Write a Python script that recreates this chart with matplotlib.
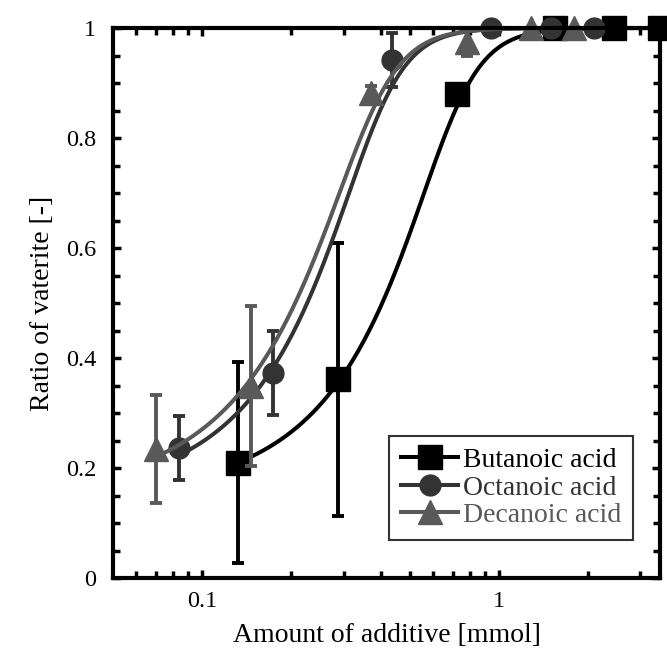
import numpy as np
import matplotlib
matplotlib.use("Agg")
import matplotlib.pyplot as plt
from matplotlib.ticker import FixedLocator, NullFormatter, MultipleLocator

# ---- data ----
names = ["Butanoic acid", "Octanoic acid", "Decanoic acid"]
colors = ["#000000", "#333333", "#595959"]
markers = ["s", "o", "^"]
msizes = [17, 15, 17]

but_x = [0.132, 0.286, 0.72, 1.55, 2.44, 3.5]
but_y = [0.210, 0.361, 0.880, 1.0, 1.0, 1.0]
but_e = [0.183, 0.248, 0.015, 0.0, 0.0, 0.0]

oct_x = [0.0835, 0.174, 0.436, 0.94, 1.50, 2.09]
oct_y = [0.237, 0.373, 0.942, 1.0, 1.0, 1.0]
oct_e = [0.058, 0.077, 0.049, 0.0, 0.0, 0.0]

dec_x = [0.0698, 0.146, 0.370, 0.78, 1.28, 1.79]
dec_y = [0.235, 0.349, 0.882, 0.975, 1.0, 1.0]
dec_e = [0.098, 0.145, 0.012, 0.025, 0.0, 0.0]

# fitted dose-response curves: y = a + (1-a) * (1 + (x0/x)^k)^(-m)
fit_a = [0.15, 0.15, 0.15]
fit_x0 = [0.70, 0.391, 0.368]
fit_k = [5.3, 5.3, 5.0]
fit_m = [0.3, 0.3, 0.3]

xs_all = [but_x, oct_x, dec_x]
ys_all = [but_y, oct_y, dec_y]
es_all = [but_e, oct_e, dec_e]

plt.rcParams['font.family'] = ['Liberation Serif', 'DejaVu Serif']

fig = plt.figure(figsize=(6.67, 6.67), dpi=100)
ax = fig.add_axes([0.169, 0.1334, 0.821, 0.8246])

handles = []
for i in range(3):
    x = np.array(xs_all[i]); y = np.array(ys_all[i]); e = np.array(es_all[i])
    xx = np.logspace(np.log10(x[0]), np.log10(x[-1]), 400)
    yy = fit_a[i] + (1 - fit_a[i]) * (1 + (fit_x0[i] / xx) ** fit_k[i]) ** (-fit_m[i])
    ax.plot(xx, yy, color=colors[i], lw=2.9, zorder=2 + i)
    ax.errorbar(x, y, yerr=e, fmt='none', ecolor=colors[i], elinewidth=2.8,
                capsize=4, capthick=2.8, zorder=2.5 + i)
    ax.plot(x, y, linestyle='none', marker=markers[i], ms=msizes[i],
            color=colors[i], mec=colors[i], zorder=3 + i, clip_on=False)
    h, = ax.plot([], [], color=colors[i], lw=2.9, marker=markers[i],
                 ms=msizes[i], mec=colors[i])
    handles.append(h)

ax.set_xscale('log')
ax.set_xlim(0.05, 3.5)
ax.set_ylim(0, 1)

ax.xaxis.set_major_locator(FixedLocator([0.1, 1]))
ax.set_xticklabels(["0.1", "1"])
minor_x = [0.06, 0.07, 0.08, 0.09, 0.2, 0.3, 0.4, 0.5, 0.6, 0.7, 0.8, 0.9, 2, 3]
ax.xaxis.set_minor_locator(FixedLocator(minor_x))
ax.xaxis.set_minor_formatter(NullFormatter())
ax.yaxis.set_major_locator(FixedLocator([0, 0.2, 0.4, 0.6, 0.8, 1.0]))
ax.set_yticklabels(["0", "0.2", "0.4", "0.6", "0.8", "1"])
ax.yaxis.set_minor_locator(MultipleLocator(0.05))

for sp in ax.spines.values():
    sp.set_linewidth(3)
    sp.set_zorder(10)
ax.tick_params(which='both', direction='in', top=True, right=True, width=2.5,
               labelsize=17.5)
ax.tick_params(axis='x', which='both', pad=9)
ax.tick_params(axis='y', which='both', pad=12)
ax.tick_params(which='major', length=6)
ax.tick_params(which='minor', length=5)

ax.set_xlabel("Amount of additive [mmol]", fontsize=20, labelpad=8)
ax.set_ylabel("Ratio of vaterite [-]", fontsize=20, labelpad=8)

leg = ax.legend(handles, names, loc='lower right', bbox_to_anchor=(0.951, 0.069),
                borderaxespad=0, fontsize=20, frameon=True, fancybox=False,
                edgecolor='black', handlelength=2.05, handletextpad=0.18,
                labelspacing=0.075, borderpad=0.43)
leg.get_frame().set_linewidth(1.5)
for t, c in zip(leg.get_texts(), colors):
    t.set_color(c)

fig.savefig("out.png", dpi=100)
